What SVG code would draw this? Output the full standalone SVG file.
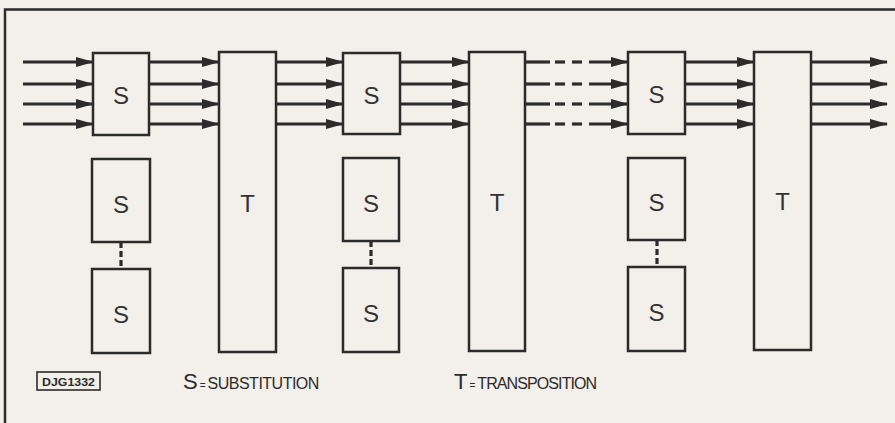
<svg xmlns="http://www.w3.org/2000/svg" width="895" height="423" viewBox="0 0 895 423">
<defs>
<marker id="ah" markerUnits="userSpaceOnUse" markerWidth="18" markerHeight="12" refX="17" refY="6" orient="auto">
<path d="M0,1 L18,6 L0,11 Z" fill="#2b2b2b"/>
</marker>
<style>
.box{fill:#f3efea;stroke:#2b2b2b;stroke-width:2.5}
.lbl{font-family:"Liberation Sans",Arial,sans-serif;font-size:24px;fill:#333;text-anchor:middle}
.ar{stroke:#2b2b2b;stroke-width:3.2;fill:none;marker-end:url(#ah)}
.ln{stroke:#2b2b2b;stroke-width:3.2;fill:none}
.vd{stroke:#2b2b2b;stroke-width:3.2;stroke-dasharray:6,3;fill:none}
.leg{font-family:"Liberation Sans",Arial,sans-serif;fill:#2b2b2b}
</style>
</defs>
<rect width="895" height="423" fill="#f3efea"/>
<path d="M5,423 V9.5 H895" fill="none" stroke="#2b2b2b" stroke-width="2.5"/>

<g id="connectors">
<line class="ar" x1="23" y1="62" x2="93" y2="62"/>
<line class="ar" x1="23" y1="84" x2="93" y2="84"/>
<line class="ar" x1="23" y1="104" x2="93" y2="104"/>
<line class="ar" x1="23" y1="124" x2="93" y2="124"/>
<line class="ar" x1="149" y1="62" x2="219" y2="62"/>
<line class="ar" x1="149" y1="84" x2="219" y2="84"/>
<line class="ar" x1="149" y1="104" x2="219" y2="104"/>
<line class="ar" x1="149" y1="124" x2="219" y2="124"/>
<line class="ar" x1="276" y1="62" x2="343" y2="62"/>
<line class="ar" x1="276" y1="84" x2="343" y2="84"/>
<line class="ar" x1="276" y1="104" x2="343" y2="104"/>
<line class="ar" x1="276" y1="124" x2="343" y2="124"/>
<line class="ar" x1="400" y1="62" x2="469" y2="62"/>
<line class="ar" x1="400" y1="84" x2="469" y2="84"/>
<line class="ar" x1="400" y1="104" x2="469" y2="104"/>
<line class="ar" x1="400" y1="124" x2="469" y2="124"/>
<g>
<line class="ln" x1="525" y1="62" x2="550" y2="62"/><line class="ln" x1="555" y1="62" x2="565" y2="62"/><line class="ln" x1="572" y1="62" x2="582" y2="62"/><line class="ar" x1="589" y1="62" x2="628" y2="62"/>
<line class="ln" x1="525" y1="84" x2="550" y2="84"/><line class="ln" x1="555" y1="84" x2="565" y2="84"/><line class="ln" x1="572" y1="84" x2="582" y2="84"/><line class="ar" x1="589" y1="84" x2="628" y2="84"/>
<line class="ln" x1="525" y1="104" x2="550" y2="104"/><line class="ln" x1="555" y1="104" x2="565" y2="104"/><line class="ln" x1="572" y1="104" x2="582" y2="104"/><line class="ar" x1="589" y1="104" x2="628" y2="104"/>
<line class="ln" x1="525" y1="124" x2="550" y2="124"/><line class="ln" x1="555" y1="124" x2="565" y2="124"/><line class="ln" x1="572" y1="124" x2="582" y2="124"/><line class="ar" x1="589" y1="124" x2="628" y2="124"/>
</g>
<line class="ar" x1="685" y1="62" x2="754" y2="62"/>
<line class="ar" x1="685" y1="84" x2="754" y2="84"/>
<line class="ar" x1="685" y1="104" x2="754" y2="104"/>
<line class="ar" x1="685" y1="124" x2="754" y2="124"/>
<line class="ar" x1="811" y1="62" x2="887" y2="62"/>
<line class="ar" x1="811" y1="84" x2="887" y2="84"/>
<line class="ar" x1="811" y1="104" x2="887" y2="104"/>
<line class="ar" x1="811" y1="124" x2="887" y2="124"/>
<line class="vd" x1="121" y1="242" x2="121" y2="269"/>
<line class="vd" x1="371" y1="241" x2="371" y2="268"/>
<line class="vd" x1="657" y1="240" x2="657" y2="267"/>
</g>

<g id="S1a"><rect class="box" x="93" y="53" width="56" height="82"/><text class="lbl" x="121" y="104">S</text></g>
<g id="S1b"><rect class="box" x="92" y="159" width="58" height="83"/><text class="lbl" x="121" y="213">S</text></g>
<g id="S1c"><rect class="box" x="92" y="269" width="58" height="84"/><text class="lbl" x="121" y="323">S</text></g>
<g id="T1"><rect class="box" x="219" y="52" width="57" height="300"/><text class="lbl" x="247.5" y="212">T</text></g>

<g id="S2a"><rect class="box" x="343" y="53" width="57" height="81"/><text class="lbl" x="371.5" y="104">S</text></g>
<g id="S2b"><rect class="box" x="343" y="158" width="56" height="83"/><text class="lbl" x="371" y="212">S</text></g>
<g id="S2c"><rect class="box" x="343" y="268" width="56" height="84"/><text class="lbl" x="371" y="322">S</text></g>
<g id="T2"><rect class="box" x="469" y="52" width="56" height="299"/><text class="lbl" x="497" y="211">T</text></g>

<g id="S3a"><rect class="box" x="628" y="52" width="57" height="82"/><text class="lbl" x="656.5" y="103">S</text></g>
<g id="S3b"><rect class="box" x="628" y="158" width="57" height="82"/><text class="lbl" x="656.5" y="211">S</text></g>
<g id="S3c"><rect class="box" x="628" y="267" width="57" height="84"/><text class="lbl" x="656.5" y="321">S</text></g>
<g id="T3"><rect class="box" x="754" y="52" width="57" height="298"/><text class="lbl" x="782.5" y="210">T</text></g>

<g id="legend">
<rect x="37" y="372" width="63" height="18" fill="none" stroke="#2b2b2b" stroke-width="1.6"/>
<text class="leg" x="68.5" y="385.5" font-size="11" font-weight="bold" text-anchor="middle" textLength="53" lengthAdjust="spacingAndGlyphs">DJG1332</text>
<text class="leg" x="183" y="388.5"><tspan font-size="22">S</tspan><tspan font-size="10" dx="2">=</tspan><tspan font-size="16" dx="2" letter-spacing="-0.5">SUBSTITUTION</tspan></text>
<text class="leg" x="454" y="388.5"><tspan font-size="22">T</tspan><tspan font-size="10" dx="2">=</tspan><tspan font-size="16" dx="2" letter-spacing="-0.9">TRANSPOSITION</tspan></text>
</g>
</svg>
